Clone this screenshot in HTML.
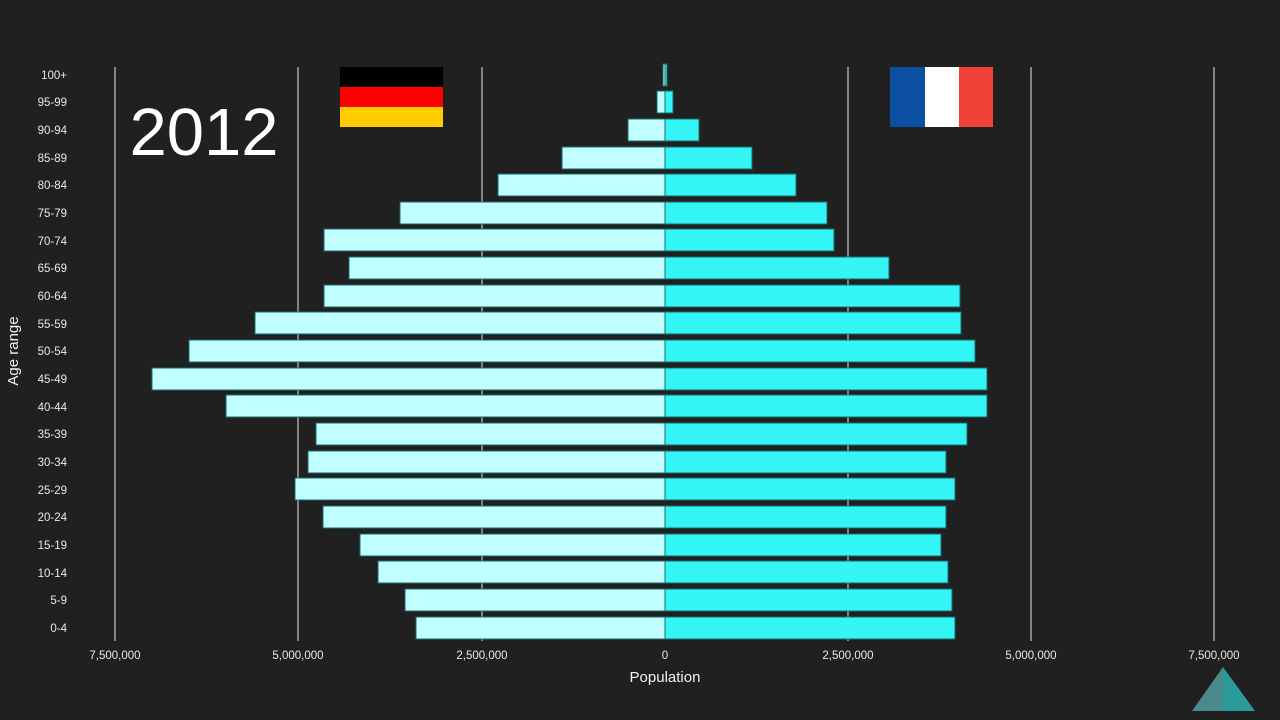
<!DOCTYPE html>
<html><head><meta charset="utf-8"><style>
html,body{margin:0;padding:0;background:#202020;}
svg{display:block;font-family:"Liberation Sans",Arial,sans-serif;}
</style></head><body>
<svg width="1280" height="720" viewBox="0 0 1280 720" xmlns="http://www.w3.org/2000/svg">
<rect width="1280" height="720" fill="#202020"/>
<g stroke="#c8c8c8" stroke-width="1.2">
<line x1="115" y1="67" x2="115" y2="641"/>
<line x1="298" y1="67" x2="298" y2="641"/>
<line x1="482" y1="67" x2="482" y2="641"/>
<line x1="848" y1="67" x2="848" y2="641"/>
<line x1="1031" y1="67" x2="1031" y2="641"/>
<line x1="1214" y1="67" x2="1214" y2="641"/>
</g>
<g stroke="#1a6a6a" stroke-width="1">
<rect x="663" y="64" width="2" height="22" fill="#c0ffff"/>
<rect x="657" y="91" width="8" height="22" fill="#c0ffff"/>
<rect x="628" y="119" width="37" height="22" fill="#c0ffff"/>
<rect x="562" y="147" width="103" height="22" fill="#c0ffff"/>
<rect x="498" y="174" width="167" height="22" fill="#c0ffff"/>
<rect x="400" y="202" width="265" height="22" fill="#c0ffff"/>
<rect x="324" y="229" width="341" height="22" fill="#c0ffff"/>
<rect x="349" y="257" width="316" height="22" fill="#c0ffff"/>
<rect x="324" y="285" width="341" height="22" fill="#c0ffff"/>
<rect x="255" y="312" width="410" height="22" fill="#c0ffff"/>
<rect x="189" y="340" width="476" height="22" fill="#c0ffff"/>
<rect x="152" y="368" width="513" height="22" fill="#c0ffff"/>
<rect x="226" y="395" width="439" height="22" fill="#c0ffff"/>
<rect x="316" y="423" width="349" height="22" fill="#c0ffff"/>
<rect x="308" y="451" width="357" height="22" fill="#c0ffff"/>
<rect x="295" y="478" width="370" height="22" fill="#c0ffff"/>
<rect x="323" y="506" width="342" height="22" fill="#c0ffff"/>
<rect x="360" y="534" width="305" height="22" fill="#c0ffff"/>
<rect x="378" y="561" width="287" height="22" fill="#c0ffff"/>
<rect x="405" y="589" width="260" height="22" fill="#c0ffff"/>
<rect x="416" y="617" width="249" height="22" fill="#c0ffff"/>

<rect x="665" y="64" width="2" height="22" fill="#33f5f5"/>
<rect x="665" y="91" width="8" height="22" fill="#33f5f5"/>
<rect x="665" y="119" width="34" height="22" fill="#33f5f5"/>
<rect x="665" y="147" width="87" height="22" fill="#33f5f5"/>
<rect x="665" y="174" width="131" height="22" fill="#33f5f5"/>
<rect x="665" y="202" width="162" height="22" fill="#33f5f5"/>
<rect x="665" y="229" width="169" height="22" fill="#33f5f5"/>
<rect x="665" y="257" width="224" height="22" fill="#33f5f5"/>
<rect x="665" y="285" width="295" height="22" fill="#33f5f5"/>
<rect x="665" y="312" width="296" height="22" fill="#33f5f5"/>
<rect x="665" y="340" width="310" height="22" fill="#33f5f5"/>
<rect x="665" y="368" width="322" height="22" fill="#33f5f5"/>
<rect x="665" y="395" width="322" height="22" fill="#33f5f5"/>
<rect x="665" y="423" width="302" height="22" fill="#33f5f5"/>
<rect x="665" y="451" width="281" height="22" fill="#33f5f5"/>
<rect x="665" y="478" width="290" height="22" fill="#33f5f5"/>
<rect x="665" y="506" width="281" height="22" fill="#33f5f5"/>
<rect x="665" y="534" width="276" height="22" fill="#33f5f5"/>
<rect x="665" y="561" width="283" height="22" fill="#33f5f5"/>
<rect x="665" y="589" width="287" height="22" fill="#33f5f5"/>
<rect x="665" y="617" width="290" height="22" fill="#33f5f5"/>
</g>
<g fill="#e8e8e8" font-size="11.5" text-anchor="end">
<text x="67" y="79">100+</text>
<text x="67" y="106">95-99</text>
<text x="67" y="134">90-94</text>
<text x="67" y="162">85-89</text>
<text x="67" y="189">80-84</text>
<text x="67" y="217">75-79</text>
<text x="67" y="245">70-74</text>
<text x="67" y="272">65-69</text>
<text x="67" y="300">60-64</text>
<text x="67" y="328">55-59</text>
<text x="67" y="355">50-54</text>
<text x="67" y="383">45-49</text>
<text x="67" y="411">40-44</text>
<text x="67" y="438">35-39</text>
<text x="67" y="466">30-34</text>
<text x="67" y="494">25-29</text>
<text x="67" y="521">20-24</text>
<text x="67" y="549">15-19</text>
<text x="67" y="577">10-14</text>
<text x="67" y="604">5-9</text>
<text x="67" y="632">0-4</text>
</g>
<g fill="#e8e8e8" font-size="11.5" text-anchor="middle">
<text x="115" y="659">7,500,000</text>
<text x="298" y="659">5,000,000</text>
<text x="482" y="659">2,500,000</text>
<text x="665" y="659">0</text>
<text x="848" y="659">2,500,000</text>
<text x="1031" y="659">5,000,000</text>
<text x="1214" y="659">7,500,000</text>
</g>
<text x="665" y="682" fill="#f0f0f0" font-size="15" text-anchor="middle">Population</text>
<text transform="translate(18,351) rotate(-90)" fill="#f0f0f0" font-size="15" text-anchor="middle">Age range</text>
<text x="204" y="155" fill="#ffffff" font-size="67" text-anchor="middle">2012</text>
<rect x="340" y="67" width="103" height="20" fill="#000"/>
<rect x="340" y="87" width="103" height="20" fill="#ff0000"/>
<rect x="340" y="107" width="103" height="20" fill="#ffcc00"/>
<rect x="890" y="67" width="35" height="60" fill="#0a4fa0"/>
<rect x="925" y="67" width="34" height="60" fill="#ffffff"/>
<rect x="959" y="67" width="34" height="60" fill="#ef4135"/>
<polygon points="1223,667 1192,711 1223,711" fill="#4a8a8a"/>
<polygon points="1223,667 1255,711 1223,711" fill="#2a9a9a"/>
</svg>
</body></html>
